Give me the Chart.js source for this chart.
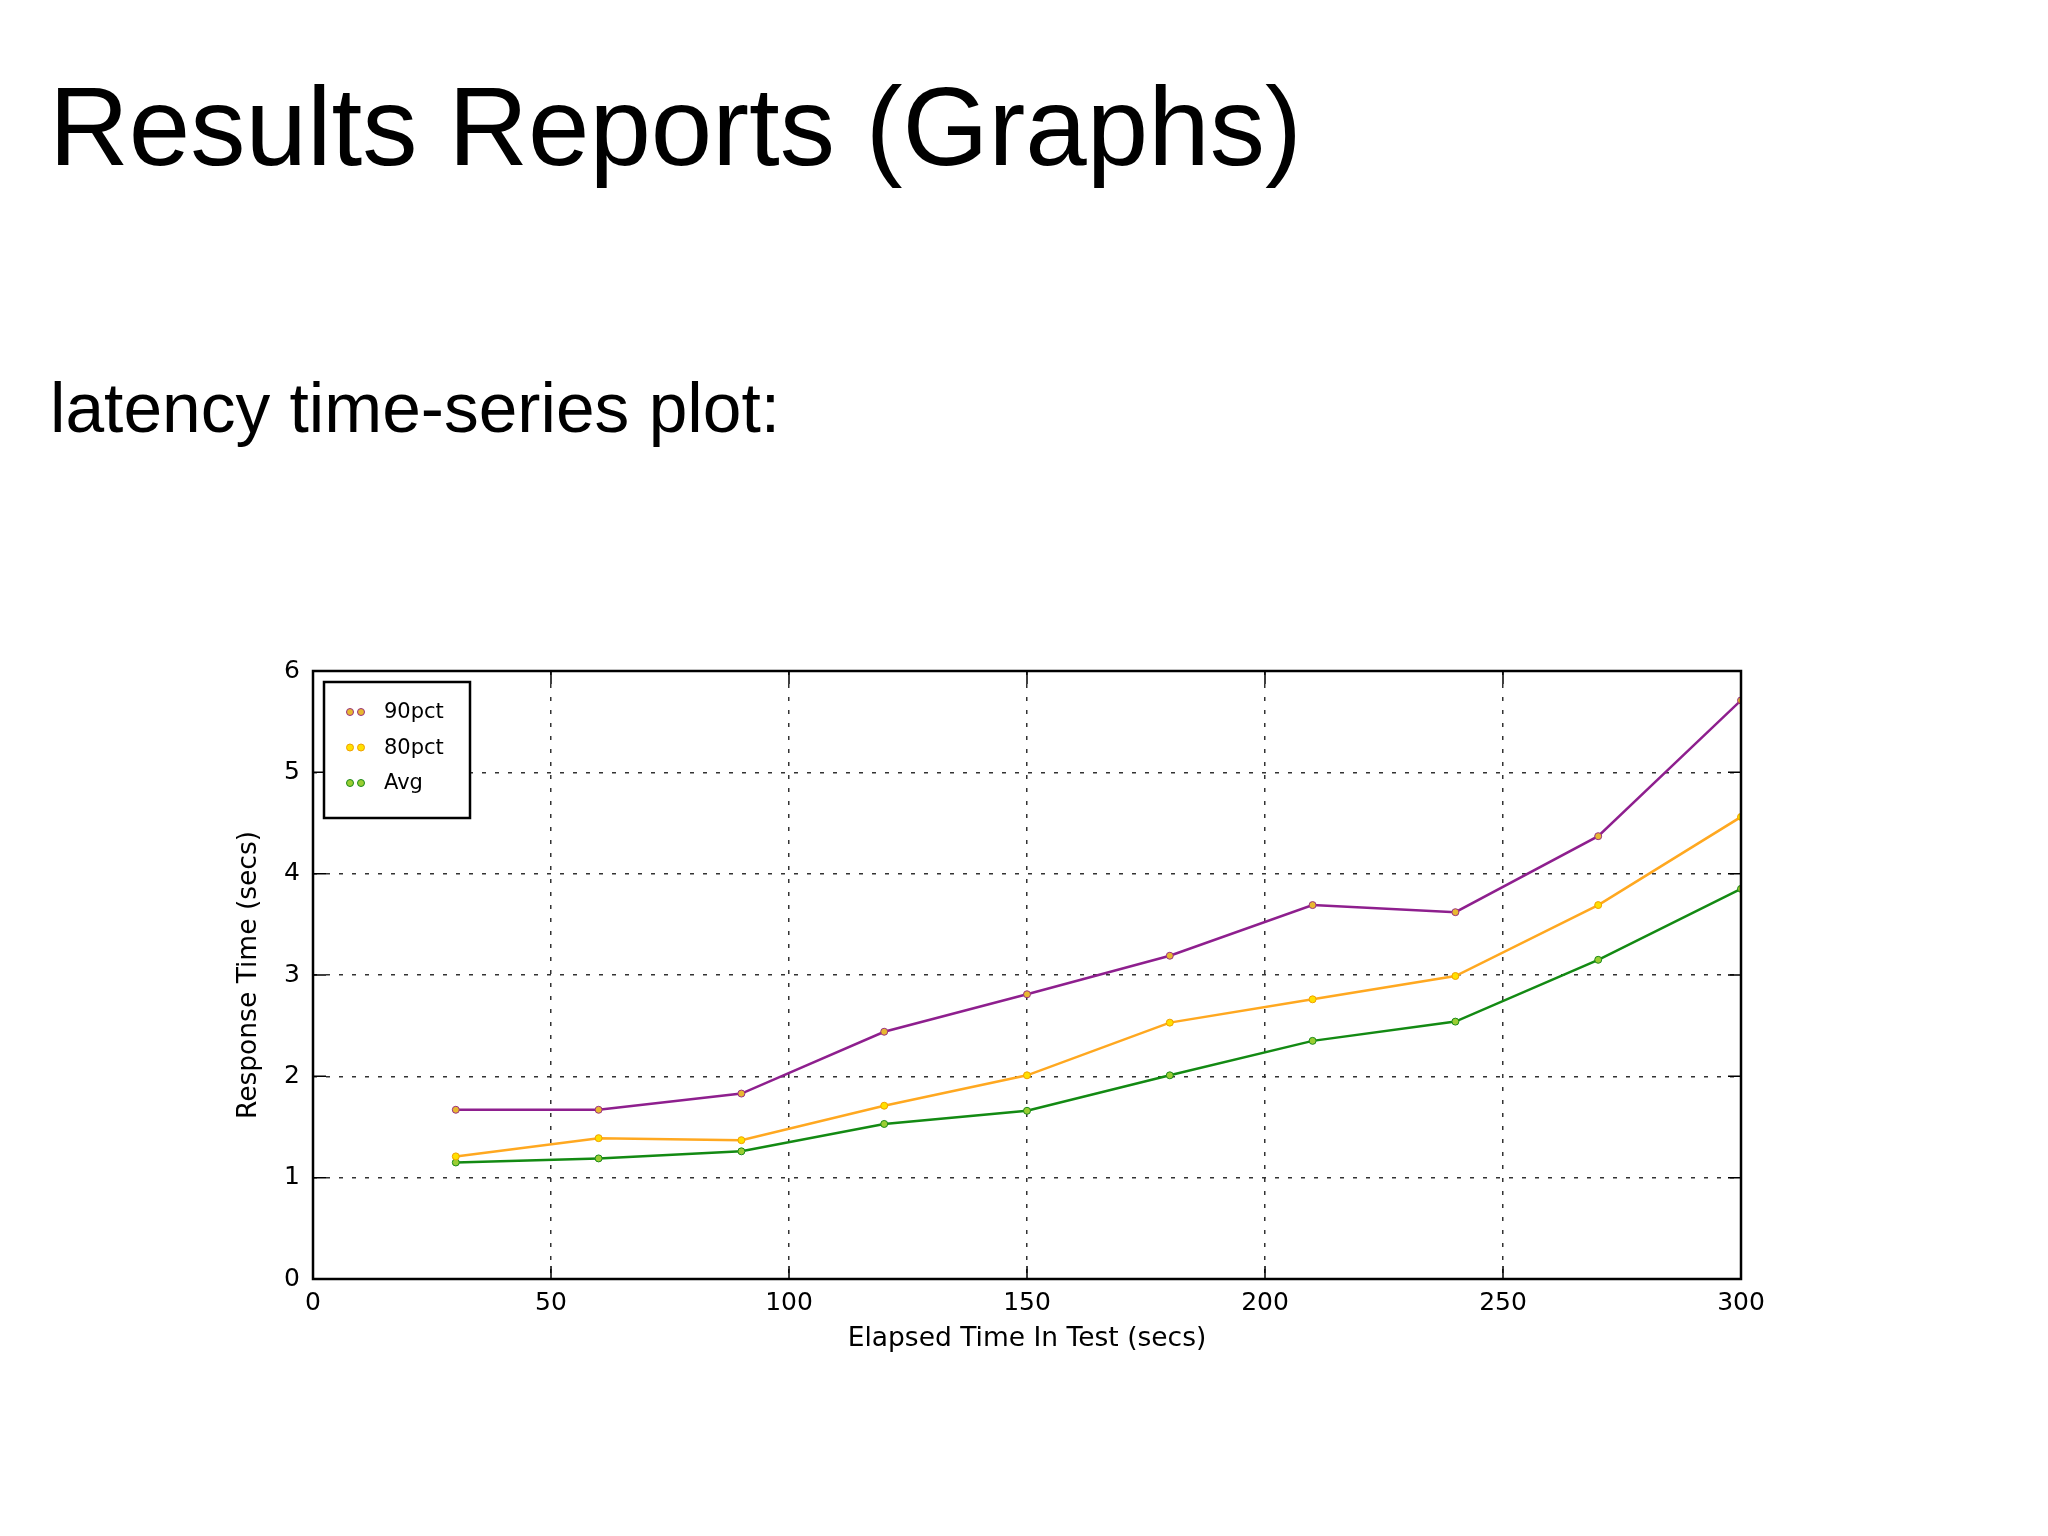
<!DOCTYPE html>
<html>
<head>
<meta charset="utf-8">
<script src="https://cdn.jsdelivr.net/npm/chart.js@4.4.1/dist/chart.umd.min.js"></script>
<style>
  html, body { margin: 0; padding: 0; background: #fff; }
  body { width: 2048px; height: 1536px; position: relative; overflow: hidden; }
  .slide-text { position: absolute; font-family: "Liberation Sans", Arial, sans-serif; color: #000; white-space: nowrap; }
  #title { left: 49px; top: 72px; font-size: 110.5px; line-height: 110.5px; }
  #subtitle { left: 50px; top: 374px; font-size: 69.5px; line-height: 69.5px; }
  #box { position: absolute; left: 229px; top: 640px; width: 1571px; height: 719px; }
</style>
</head>
<body>
<div id="title" class="slide-text">Results Reports (Graphs)</div>
<div id="subtitle" class="slide-text">latency time-series plot:</div>
<div id="box"><canvas id="chart"></canvas></div>
<script>
// values
const elapsed = [30, 60, 90, 120, 150, 180, 210, 240, 270, 300];
const pct90 = [1.67, 1.67, 1.83, 2.44, 2.81, 3.19, 3.69, 3.62, 4.37, 5.71];
const pct80 = [1.21, 1.39, 1.37, 1.71, 2.01, 2.53, 2.76, 2.99, 3.69, 4.56];
const avg = [1.15, 1.19, 1.26, 1.53, 1.66, 2.01, 2.35, 2.54, 3.15, 3.85];
const seriesNames = ['90pct', '80pct', 'Avg'];
const xTicks = [0, 50, 100, 150, 200, 250, 300];
const yTicks = [0, 1, 2, 3, 4, 5, 6];

const FONT = '"DejaVu Sans", sans-serif';

function points(vals) {
    return elapsed.map(function(t, i) { return { x: t, y: vals[i] }; });
}

function makeSet(label, vals, line, fill, edge) {
    return {
        label: label,
        data: points(vals),
        borderColor: line,
        borderWidth: 2.5,
        pointRadius: 3.5,
        pointBackgroundColor: fill,
        pointBorderColor: edge,
        pointBorderWidth: 1,
        tension: 0,
        fill: false
    };
}

// box, inward ticks on all four sides (matplotlib style)
const frame = {
    id: 'frame',
    afterDatasetsDraw(chart) {
        const ctx = chart.ctx;
        const a = chart.chartArea;
        const xs = chart.scales.x, ys = chart.scales.y;
        const len = 13;
        ctx.save();
        ctx.strokeStyle = '#000';
        ctx.lineWidth = 1.5;
        ctx.beginPath();
        for (const t of xTicks) {
            const px = xs.getPixelForValue(t);
            ctx.moveTo(px, a.bottom); ctx.lineTo(px, a.bottom - len);
            ctx.moveTo(px, a.top); ctx.lineTo(px, a.top + len);
        }
        for (const t of yTicks) {
            const py = ys.getPixelForValue(t);
            ctx.moveTo(a.left, py); ctx.lineTo(a.left + len, py);
            ctx.moveTo(a.right, py); ctx.lineTo(a.right - len, py);
        }
        ctx.stroke();
        ctx.lineWidth = 2.5;
        ctx.strokeRect(a.left, a.top, a.right - a.left, a.bottom - a.top);
        ctx.restore();
    }
};

// boxed legend in the upper left corner of the plot
const boxLegend = {
    id: 'boxLegend',
    afterDraw(chart) {
        const ctx = chart.ctx;
        const a = chart.chartArea;
        const bx = a.left + 11, by = a.top + 11, bw = 146, bh = 136;
        ctx.save();
        ctx.fillStyle = '#fff';
        ctx.fillRect(bx, by, bw, bh);
        ctx.strokeStyle = '#000';
        ctx.lineWidth = 2.5;
        ctx.strokeRect(bx, by, bw, bh);
        ctx.font = '21px ' + FONT;
        ctx.textBaseline = 'middle';
        chart.data.datasets.forEach(function(ds, i) {
            const y = by + 30 + i * 35.5;
            [bx + 26, bx + 37].forEach(function(mx) {
                ctx.beginPath();
                ctx.arc(mx, y, 3.5, 0, Math.PI * 2);
                ctx.fillStyle = ds.pointBackgroundColor;
                ctx.fill();
                ctx.lineWidth = 1;
                ctx.strokeStyle = ds.pointBorderColor;
                ctx.stroke();
            });
            ctx.fillStyle = '#000';
            ctx.fillText(ds.label, bx + 60, y + 1);
        });
        ctx.restore();
    }
};

const dashGrid = {
    color: '#333',
    lineWidth: 1.5,
    drawTicks: false
};

new Chart(document.getElementById('chart'), {
    type: 'line',
    data: {
        datasets: [
            makeSet(seriesNames[0], pct90, '#8e1f8e', '#e8b830', '#9a3080'),
            makeSet(seriesNames[1], pct80, '#ffa820', '#ffe000', '#f0a000'),
            makeSet(seriesNames[2], avg, '#138a13', '#9acd32', '#1a8a1a')
        ]
    },
    options: {
        responsive: true,
        maintainAspectRatio: false,
        animation: false,
        layout: { autoPadding: false, padding: { left: 0, top: 31, right: 59, bottom: 0 } },
        plugins: {
            legend: { display: false },
            tooltip: { enabled: false }
        },
        scales: {
            x: {
                type: 'linear',
                min: 0,
                max: 300,
                afterBuildTicks(scale) { scale.ticks = xTicks.map(function(v) { return { value: v }; }); },
                afterFit(scale) { scale.height = 80; },
                grid: dashGrid,
                border: { display: false, dash: [4, 9] },
                ticks: { color: '#000', padding: 9, font: { family: FONT, size: 25 }, maxRotation: 0 },
                title: { display: true, text: 'Elapsed Time In Test (secs)', color: '#000', font: { family: FONT, size: 26.5 } }
            },
            y: {
                min: 0,
                max: 6,
                afterBuildTicks(scale) { scale.ticks = yTicks.map(function(v) { return { value: v }; }); },
                afterFit(scale) { scale.width = 84; },
                grid: dashGrid,
                border: { display: false, dash: [4, 9] },
                ticks: { color: '#000', padding: 13, font: { family: FONT, size: 25 } },
                title: { display: true, text: 'Response Time (secs)', color: '#000', font: { family: FONT, size: 26.5 } }
            }
        }
    },
    plugins: [frame, boxLegend]
});
</script>
</body>
</html>
